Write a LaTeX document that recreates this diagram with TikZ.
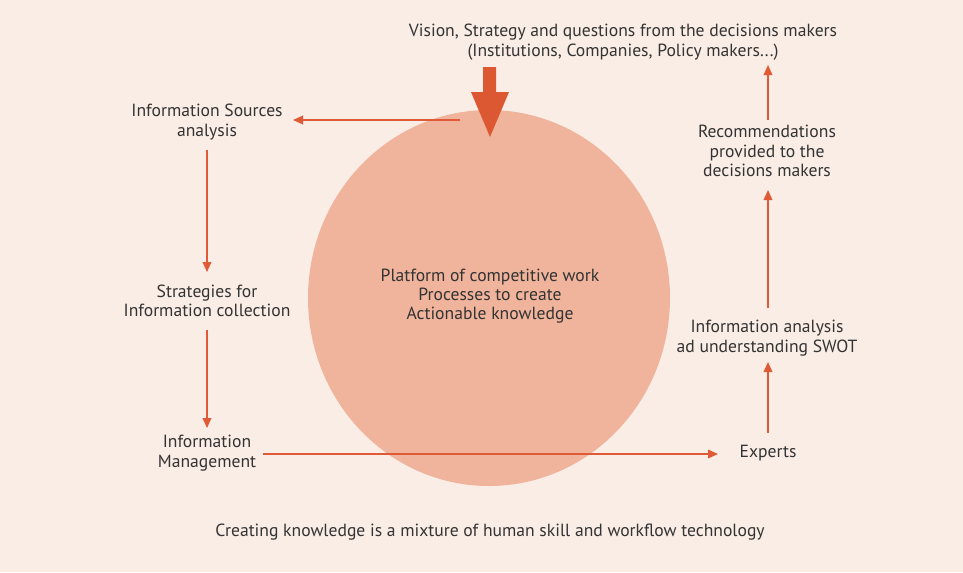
\documentclass[tikz,border=0pt]{standalone}
\usepackage{fontspec}
\setmainfont{PT Sans}
\usetikzlibrary{arrows.meta}

\definecolor{bgpeach}{HTML}{FAEDE6}
\definecolor{discpeach}{HTML}{F0B49C}
\definecolor{flowred}{HTML}{E05A35}
\definecolor{bigred}{HTML}{DC5832}
\definecolor{txtgray}{HTML}{333333}

\tikzstyle{arrow} = [flowred,line width=1.1pt,-{Triangle[length=7.5pt,width=6.5pt]}]
\tikzstyle{label} = [align=center,text=txtgray,font=\fontsize{13.2}{14.5}\selectfont,inner sep=2pt]

\begin{document}
\begin{tikzpicture}[x=0.75pt,y=0.75pt]

% Background
\fill [bgpeach] (0,0) rectangle (963,-572);
\useasboundingbox (0,0) rectangle (963,-572);

% Circle
\fill [discpeach] (489,-298) ellipse [x radius=181,y radius=188];
\node [label] (platform) at (490,-296) {Platform of competitive work\\Processes to create\\Actionable knowledge};

% Big arrow into the circle
\fill [bigred] (483,-67) -- (496,-67) -- (496,-92) -- (509,-92) -- (490,-137)
  -- (471,-92) -- (483,-92) -- cycle;

% Steps
\node [label] (vision) at (623,-42) {Vision, Strategy and questions from the decisions makers\\(Institutions, Companies, Policy makers...)};
\node [label] (sources) at (207,-122) {Information Sources\\analysis};
\node [label] (strategies) at (207,-301) {Strategies for\\Information collection};
\node [label] (management) at (207,-453) {Information\\Management};
\node [label] (experts) at (768,-453) {Experts};
\node [label] (swot) at (767,-338) {Information analysis\\ad understanding SWOT};
\node [label] (recommend) at (767,-151) {Recommendations\\provided to the\\decisions makers};

% Caption
\node [label] (caption) at (490,-532) {Creating knowledge is a mixture of human skill and workflow technology};

% Arrows
\coordinate (start) at (460,-120);
\coordinate (srcend) at (293,-120);
\coordinate (mgtstart) at (263,-454);
\coordinate (expend) at (718,-454);
\draw [arrow] (start) -- (srcend);
\draw [arrow] (sources.south |- 0,-150) -- (sources.south |- 0,-272);
\draw [arrow] (strategies.south |- 0,-330) -- (strategies.south |- 0,-428);
\draw [arrow] (mgtstart) -- (expend);
\draw [arrow] (experts.north |- 0,-433) -- (experts.north |- 0,-362);
\draw [arrow] (experts.north |- 0,-308) -- (experts.north |- 0,-190);
\draw [arrow] (experts.north |- 0,-120) -- (experts.north |- 0,-65);

\end{tikzpicture}
\end{document}
